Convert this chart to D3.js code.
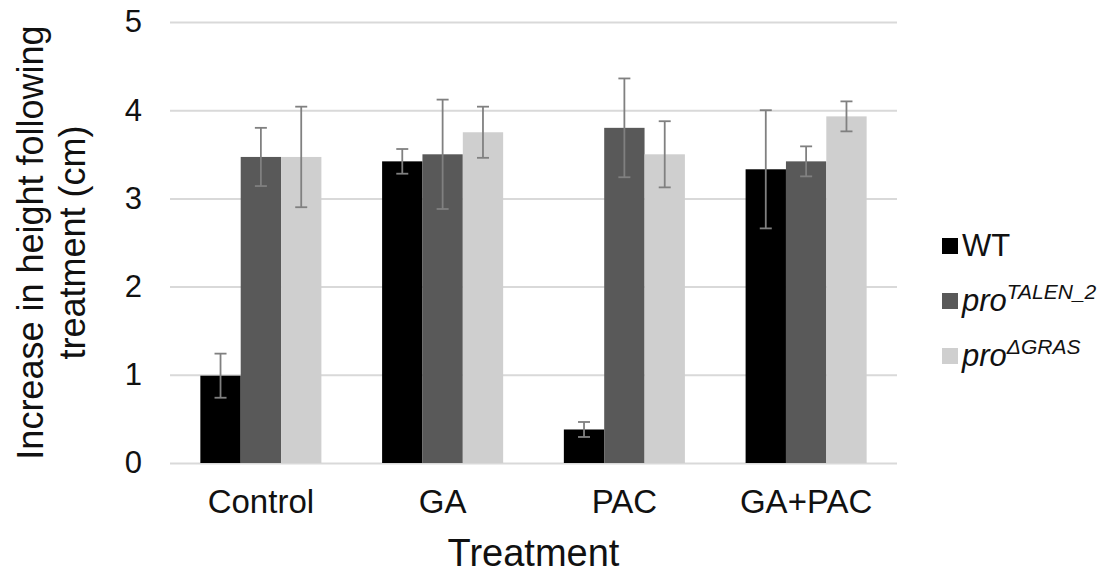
<!DOCTYPE html>
<html>
<head>
<meta charset="utf-8">
<script src="https://cdn.jsdelivr.net/npm/d3@7"></script>
<style>
  body { margin: 0; background: #fff; }
  text { font-family: "Liberation Sans", Arial, sans-serif; fill: #111; }
</style>
</head>
<body>
<div id="chart"></div>
<script>
// data
var categories = ["Control", "GA", "PAC", "GA+PAC"];
var seriesKeys = ["WT", "talen", "gras"];
var wtMeans    = [0.99, 3.42, 0.38, 3.33];
var wtErr      = [0.25, 0.14, 0.085, 0.67];
var talenMeans = [3.47, 3.50, 3.80, 3.42];
var talenErr   = [0.33, 0.62, 0.56, 0.17];
var grasMeans  = [3.47, 3.75, 3.50, 3.93];
var grasErr    = [0.57, 0.29, 0.375, 0.17];
var yTicks     = [0, 1, 2, 3, 4, 5];

var colors = { WT: "#000000", talen: "#595959", gras: "#cfcfcf" };

var W = 1120, H = 576;
var plot = { left: 170, right: 897, top: 22, bottom: 463 };

var rows = [];
categories.forEach(function(c, i) {
  rows.push({ cat: c, key: "WT",    value: wtMeans[i],    err: wtErr[i] });
  rows.push({ cat: c, key: "talen", value: talenMeans[i], err: talenErr[i] });
  rows.push({ cat: c, key: "gras",  value: grasMeans[i],  err: grasErr[i] });
});

var x0 = d3.scaleBand()
  .domain(categories)
  .range([plot.left, plot.right])
  .paddingInner(0.334)
  .paddingOuter(0.167);

var x1 = d3.scaleBand()
  .domain(seriesKeys)
  .range([0, x0.bandwidth()]);

var y = d3.scaleLinear()
  .domain([0, 5])
  .range([plot.bottom, plot.top]);

var svg = d3.select("#chart").append("svg")
  .attr("width", W)
  .attr("height", H);

// gridlines + y tick labels
var yAxis = svg.append("g")
  .attr("transform", "translate(" + plot.left + ",0)")
  .call(d3.axisLeft(y)
    .tickValues(yTicks)
    .tickSize(-(plot.right - plot.left))
    .tickPadding(28)
    .tickFormat(d3.format("d")));
yAxis.select(".domain").remove();
yAxis.selectAll("line").attr("stroke", "#d9d9d9").attr("stroke-width", 2);
yAxis.selectAll("text").style("font-size", "31px").attr("fill", "#111");

// bars
svg.append("g").selectAll("rect")
  .data(rows)
  .enter()
  .append("rect")
    .attr("x", function(d) { return x0(d.cat) + x1(d.key); })
    .attr("y", function(d) { return y(d.value); })
    .attr("width", x1.bandwidth())
    .attr("height", function(d) { return y(0) - y(d.value); })
    .attr("fill", function(d) { return colors[d.key]; });

// error bars
var eb = svg.append("g")
  .attr("stroke", "#808080")
  .attr("stroke-width", 1.8)
  .selectAll("g")
  .data(rows)
  .enter()
  .append("g")
    .attr("transform", function(d) {
      return "translate(" + (x0(d.cat) + x1(d.key) + x1.bandwidth() / 2) + ",0)";
    });
eb.append("line")
  .attr("y1", function(d) { return y(d.value - d.err); })
  .attr("y2", function(d) { return y(d.value + d.err); });
eb.append("line")
  .attr("x1", -6).attr("x2", 6)
  .attr("y1", function(d) { return y(d.value + d.err); })
  .attr("y2", function(d) { return y(d.value + d.err); });
eb.append("line")
  .attr("x1", -6).attr("x2", 6)
  .attr("y1", function(d) { return y(d.value - d.err); })
  .attr("y2", function(d) { return y(d.value - d.err); });

// x axis labels
var xAxis = svg.append("g")
  .attr("transform", "translate(0," + plot.bottom + ")")
  .call(d3.axisBottom(x0).tickSize(0).tickPadding(27));
xAxis.select(".domain").remove();
xAxis.selectAll("text").style("font-size", "33px").attr("fill", "#111");

// axis titles
svg.append("text")
  .attr("x", (plot.left + plot.right) / 2)
  .attr("y", 566)
  .attr("text-anchor", "middle")
  .style("font-size", "38px")
  .text("Treatment");

var yTitle = svg.append("text")
  .attr("transform", "translate(0," + ((plot.top + plot.bottom) / 2) + ") rotate(-90)")
  .attr("text-anchor", "middle")
  .style("font-size", "36px");
yTitle.append("tspan").attr("x", 0).attr("y", 43).text("Increase in height following");
yTitle.append("tspan").attr("x", 0).attr("y", 85).text("treatment (cm)");

// legend
var legend = svg.append("g").attr("transform", "translate(942,0)");
var legendY = [246, 301, 356];
seriesKeys.forEach(function(k, i) {
  legend.append("rect")
    .attr("x", 0).attr("y", legendY[i] - 8)
    .attr("width", 16).attr("height", 16)
    .attr("fill", colors[k]);
});
legend.append("text").attr("x", 20).attr("y", legendY[0] + 10)
  .style("font-size", "31px").text("WT");
var t2 = legend.append("text").attr("x", 20).attr("y", legendY[1] + 10)
  .style("font-size", "31px").style("font-style", "italic");
t2.append("tspan").text("pro");
t2.append("tspan").attr("dy", -12).style("font-size", "21px").text("TALEN_2");
var t3 = legend.append("text").attr("x", 20).attr("y", legendY[2] + 10)
  .style("font-size", "31px").style("font-style", "italic");
t3.append("tspan").text("pro");
t3.append("tspan").attr("dy", -12).style("font-size", "21px").text("\u0394GRAS");
</script>
</body>
</html>
